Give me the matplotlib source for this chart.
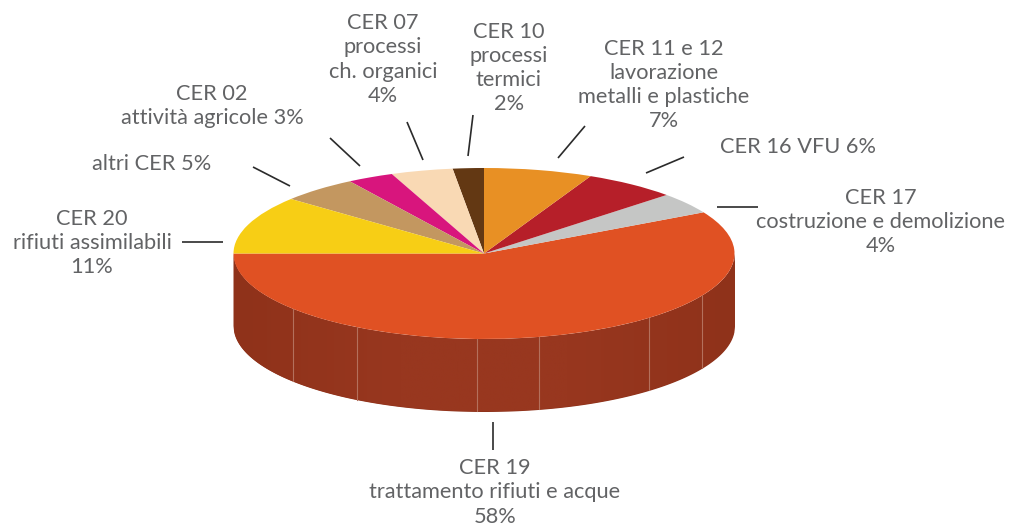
import numpy as np
import matplotlib
matplotlib.use("Agg")
import matplotlib.pyplot as plt
from matplotlib.colors import LinearSegmentedColormap

# --- data (counter-clockwise from the left edge of the pie)
categories = ["CER 19", "CER 17", "CER 16 VFU", "CER 11 e 12", "CER 10",
              "CER 07", "CER 02", "altri CER", "CER 20"]
shares = [58, 4, 6, 7, 2, 4, 3, 5, 11]
label_texts = [
    "CER 19\ntrattamento rifiuti e acque\n58%",
    "CER 17\ncostruzione e demolizione\n4%",
    "CER 16 VFU 6%",
    "CER 11 e 12\nlavorazione\nmetalli e plastiche\n7%",
    "CER 10\nprocessi\ntermici\n2%",
    "CER 07\nprocessi\nch. organici\n4%",
    "CER 02\nattività agricole 3%",
    "altri CER 5%",
    "CER 20\nrifiuti assimilabili\n11%",
]

# --- style and layout (pixels of the 1009x526 picture)
W, H = 1009, 526
CX, CY, RX, RY, DEPTH = 484.0, 253.5, 250.5, 85.5, 72.5
colors = ["#e05123", "#c5c6c5", "#b61f29", "#e89024", "#633813",
          "#f9d9b4", "#d8157d", "#c39760", "#f7ce15"]
side_edge, side_mid = "#8f321a", "#98371f"
seam_color = "#b4705c"
text_color = "#626365"
label_xy = [(495, 492.5), (881, 222), (798, 147), (664, 85), (509, 68),
            (383, 59.5), (212, 106), (152, 163.5), (92, 243)]
leaders = [((493, 422), (493, 450)), ((717, 206.5), (758, 206.5)),
           ((646, 173), (684, 157)), ((558, 158), (585, 126)),
           ((468, 156), (473, 115)), ((423, 160), (407, 122)),
           ((360, 166), (330, 138)), ((290, 186), (253, 167)),
           ((182, 242), (223, 242))]
seam_px = [293, 357, 476.7, 539, 649, 702]

plt.rcParams["font.family"] = ["Lato", "DejaVu Sans"]
fig = plt.figure(figsize=(W / 100, H / 100), dpi=100)
ax = fig.add_axes([0, 0, 1, 1])

def ux(px):
    return (px - CX) / RX

def uy(py):
    return (CY - py) / RY

depth = DEPTH / RY

# side wall of the pie
xs = np.linspace(-1, 1, 801)
top = -np.sqrt(1 - xs ** 2)
wall = ax.fill_between(xs, top, top - depth, color=side_edge, lw=0, zorder=1)
cmap = LinearSegmentedColormap.from_list("wall", [side_edge, side_mid, side_mid, side_edge])
im = ax.imshow(np.linspace(0, 1, 256)[None, :], cmap=cmap, aspect="auto",
               extent=(-1, 1, -1 - depth, 0), zorder=1.5)
im.set_clip_path(wall.get_paths()[0], transform=ax.transData)
for sx in seam_px:
    x = ux(sx)
    y0 = -np.sqrt(1 - x ** 2)
    ax.plot([x, x], [y0, y0 - depth], color=seam_color, lw=0.8, zorder=2)

# top face
ax.pie(shares, colors=colors, startangle=180, counterclock=True, radius=1,
       wedgeprops=dict(linewidth=0, zorder=3))
ax.set_aspect("auto")
ax.set_xlim(ux(0), ux(W))
ax.set_ylim(uy(H), uy(0))
ax.axis("off")

# leaders and labels
for (a, b) in leaders:
    ax.plot([ux(a[0]), ux(b[0])], [uy(a[1]), uy(b[1])], color="#2b2b2b",
            lw=1.2, solid_capstyle="butt", zorder=4)
for txt, (lx, ly) in zip(label_texts, label_xy):
    ax.text(ux(lx), uy(ly), txt, ha="center", va="center", ma="center",
            fontsize=15.7, color=text_color, linespacing=1.26, zorder=5)

fig.savefig("out.png", dpi=100)
